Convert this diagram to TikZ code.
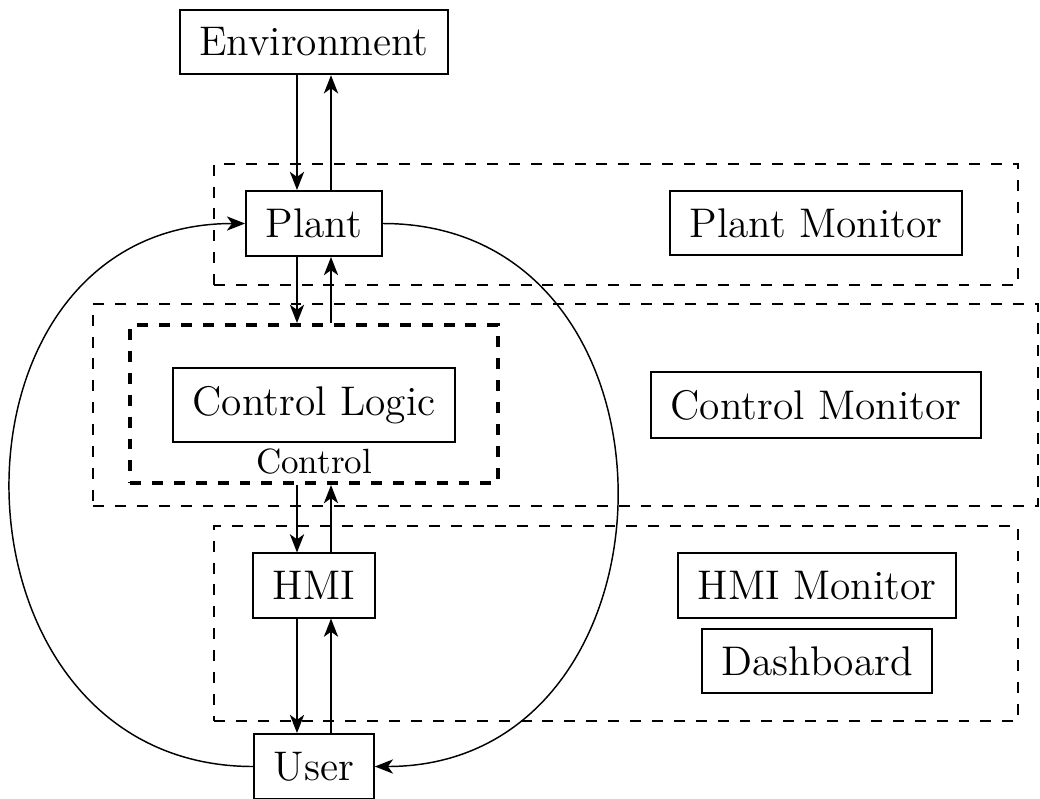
\documentclass[tikz,border=0pt]{standalone}
\usetikzlibrary{arrows.meta}
\begin{document}
\begin{tikzpicture}[x=0.274pt, y=-0.274pt,
  font=\fontsize{11.35}{13.6}\selectfont,
  block/.style={draw, line width=0.55pt, inner xsep=5.4pt, inner ysep=4.9pt},
  zone/.style={draw, dashed, line width=0.4pt, inner sep=0pt},
  corezone/.style={draw, dashed, line width=1.1pt, inner sep=0pt},
  flow/.style={-{Stealth[length=5pt,width=3.9pt,inset=1.4pt]}, line width=0.55pt},
  loopline/.style={-{Stealth[length=5pt,width=3.9pt,inset=1.4pt]}, line width=0.4pt},
]
\useasboundingbox (0,0) rectangle (1040,798);
\clip (0,0) rectangle (1040,798);

% layer zones
\node[zone, minimum width=220.3pt, minimum height=33.2pt] (plantzone) at (616,224.5) {};
\node[zone, minimum width=258.9pt, minimum height=55.3pt] (ctrlzone) at (565.5,405) {};
\node[zone, minimum width=220.3pt, minimum height=53.4pt] (hmizone) at (616,623.5) {};
\node[corezone, minimum width=100.8pt, minimum height=43.3pt] (core) at (314,404) {};

% blocks
\node[block] (env) at (314,42) {Environment};
\node[block] (plant) at (314,223.5) {Plant};
\node[block] (plantmon) at (816,223) {Plant Monitor};
\node[block] (logic) at (314,405) {Control Logic};
\node[font=\fontsize{9.6}{11}\selectfont, inner sep=0pt] (corelabel) at (314,462) {Control};
\node[block] (ctrlmon) at (816,405) {Control Monitor};
\node[block] (hmi) at (314,585.5) {HMI};
\node[block] (hmimon) at (817,585.5) {HMI Monitor};
\node[block] (dash) at (817,661) {Dashboard};
\node[block] (user) at (314,766.5) {User};

% vertical signal paths
\draw[flow] ([xshift=-4.66pt]env.south) -- ([xshift=-4.66pt]plant.north);
\draw[flow] ([xshift=4.66pt]plant.north) -- ([xshift=4.66pt]env.south);
\draw[flow] ([xshift=-4.66pt]plant.south) -- ([xshift=-4.66pt]core.north);
\draw[flow] ([xshift=4.66pt]core.north) -- ([xshift=4.66pt]plant.south);
\draw[flow] ([xshift=-4.66pt]core.south) -- ([xshift=-4.66pt]hmi.north);
\draw[flow] ([xshift=4.66pt]hmi.north) -- ([xshift=4.66pt]core.south);
\draw[flow] ([xshift=-4.66pt]hmi.south) -- ([xshift=-4.66pt]user.north);
\draw[flow] ([xshift=4.66pt]user.north) -- ([xshift=4.66pt]hmi.south);

% outer feedback loop
\draw[loopline] (plant.east) .. controls +(317,0) and +(317,0) .. (user.east);
\draw[loopline] (user.west) .. controls +(-318,0) and +(-318,0) .. (plant.west);
\end{tikzpicture}
\end{document}
